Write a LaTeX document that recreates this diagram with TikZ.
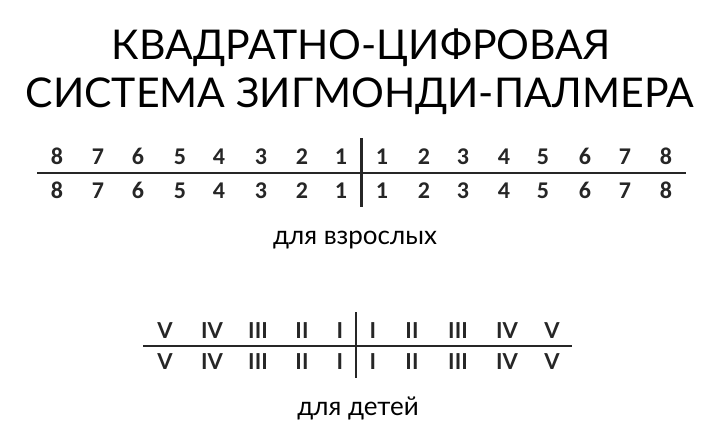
\documentclass[tikz,border=0pt]{standalone}
\usepackage{fontspec}
\setmainfont{Lato}
\newfontfamily\digitfont{Carlito}
\begin{document}
\begin{tikzpicture}[x=1pt,y=-1pt,
  rule/.style={line width=2.6pt, draw=black!85},
  digittext/.style={font=\digitfont\bfseries\fontsize{24}{24}\selectfont, text=black!85, inner sep=0pt, anchor=base},
  romantext/.style={font=\bfseries\fontsize{22}{22}\selectfont, text=black!85, inner sep=0pt, anchor=base},
  captiontext/.style={font=\fontsize{26}{26}\selectfont, inner sep=0pt, anchor=base},
  titletext/.style={font=\fontsize{41}{41}\selectfont, inner sep=0pt, anchor=base}]
\useasboundingbox[fill=white] (0,0) rectangle (720,429);

% title
\node[titletext] (t1) at (361,59) {КВАДРАТНО-ЦИФРОВАЯ};
\node[titletext] (t2) at (360,107) {СИСТЕМА ЗИГМОНДИ-ПАЛМЕРА};

% adult formula
\coordinate (ahl) at (37,173);
\coordinate (ahr) at (686,173);
\coordinate (avt) at (361.5,138);
\coordinate (avb) at (361.5,207);
\draw[rule] (ahl) -- (ahr);
\draw[rule] (avt) -- (avb);
\foreach \n/\x in {8/57,7/98,6/138,5/180,4/219,3/261,2/302,1/341}{
  \node[digittext] (aul\n) at (\x,164) {\n};
  \node[digittext] (adl\n) at (\x,198) {\n};
}
\foreach \n/\x in {1/382,2/424,3/463,4/504,5/543,6/585,7/625,8/666}{
  \node[digittext] (aur\n) at (\x,164) {\n};
  \node[digittext] (adr\n) at (\x,198) {\n};
}
\node[captiontext] (acap) at (355,244) {для взрослых};

% child formula
\coordinate (chl) at (143,346);
\coordinate (chr) at (572,346);
\coordinate (cvt) at (356,312);
\coordinate (cvb) at (356,378);
\draw[rule] (chl) -- (chr);
\draw[rule] (cvt) -- (cvb);
\foreach \n/\r/\x in {5/V/165,4/IV/212,3/III/258,2/II/302,1/I/340}{
  \node[romantext] (cul\n) at (\x,338) {\r};
  \node[romantext] (cdl\n) at (\x,369) {\r};
}
\foreach \n/\r/\x in {1/I/373,2/II/412,3/III/458,4/IV/507,5/V/552}{
  \node[romantext] (cur\n) at (\x,338) {\r};
  \node[romantext] (cdr\n) at (\x,369) {\r};
}
\node[captiontext] (ccap) at (358,415) {для детей};
\end{tikzpicture}
\end{document}
